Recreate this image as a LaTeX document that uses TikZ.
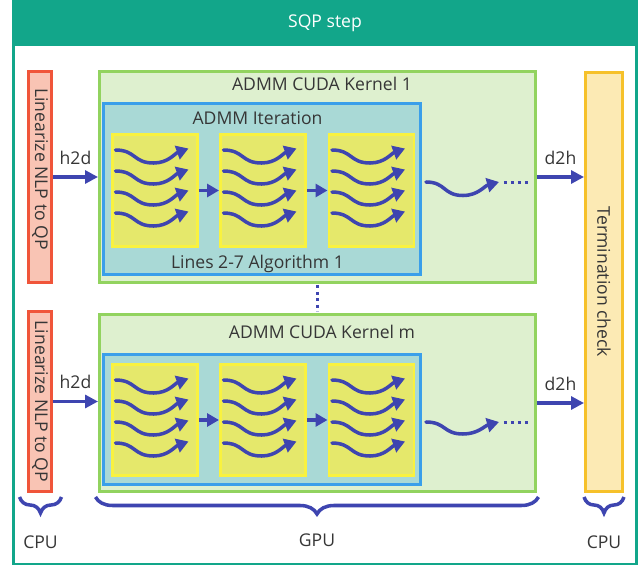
\documentclass[tikz,border=0pt]{standalone}
\usepackage{fontspec}
\setmainfont{Open Sans}
\usetikzlibrary{arrows.meta,decorations.pathreplacing}

\definecolor{sqpteal}{HTML}{12A68A}
\definecolor{cpured}{HTML}{F0553A}
\definecolor{cpufill}{HTML}{F9C4B4}
\definecolor{kgreen}{HTML}{92D35F}
\definecolor{kfill}{HTML}{DEF0CF}
\definecolor{iblue}{HTML}{3A9FEA}
\definecolor{ifill}{HTML}{A9D9D6}
\definecolor{byellow}{HTML}{F9F23F}
\definecolor{bfill}{HTML}{E5E86B}
\definecolor{termyel}{HTML}{F6C12A}
\definecolor{termfill}{HTML}{FCEAB4}
\definecolor{flowblue}{HTML}{3E45B0}
\definecolor{textgray}{HTML}{363636}

\begin{document}
\begin{tikzpicture}[
	every node/.style={text=textgray, font=\fontsize{10}{12}\selectfont},
	box/.style={draw, line width=1.7pt, inner sep=0pt},
	cpubox/.style={box, draw=cpured, fill=cpufill, minimum width=0.46cm},
	kernel/.style={box, draw=kgreen, fill=kfill, minimum width=8.72cm},
	iter/.style={box, draw=iblue, fill=ifill, minimum width=6.34cm},
	block/.style={box, draw=byellow, fill=bfill, minimum width=1.70cm},
	flow/.style={draw=flowblue, line width=1.8pt, -{Triangle[length=0.26cm,width=0.26cm]}},
	link/.style={flow, -{Triangle[length=0.24cm,width=0.26cm]}},
	wavy/.style={flow, line width=2pt, line cap=round, -{Triangle[length=0.24cm,width=0.28cm]}},
	dots/.style={draw=flowblue, line width=0.06cm, dash pattern=on 0.06cm off 0.08cm},
	cbrace/.style={draw=flowblue, line width=2pt, decorate, decoration={brace, mirror, amplitude=0.32cm}},
]
\useasboundingbox (0,0) rectangle (12.86,-11.34);

% outer frame and title bar
\node[box, draw=sqpteal, minimum width=12.46cm, minimum height=11.25cm] (frame) at (6.5,-5.655) {};
\node[box, draw=sqpteal, fill=sqpteal, minimum width=12.46cm, minimum height=0.86cm, anchor=north, text=white] (title) at (frame.north) {SQP step};

% CPU side
\node[cpubox, minimum height=4.22cm] (lin1) at (0.80,-3.54) {};
\node[rotate=-90] (lin1txt) at ([yshift=0.16cm]lin1.center) {Linearize NLP to QP};
\node[cpubox, minimum height=3.60cm] (lin2) at (0.80,-8.03) {};
\node[rotate=-90] (lin2txt) at (lin2.center) {Linearize NLP to QP};

\node[box, draw=termyel, fill=termfill, minimum width=0.74cm, minimum height=8.38cm] (term) at (12.08,-5.64) {};
\node[rotate=-90] (termtxt) at (term.center) {Termination check};

% GPU kernels
\node[kernel, minimum height=4.22cm] (kern1) at (6.35,-3.54) {};
\node (kern1txt) at ([xshift=0.09cm, yshift=-0.27cm]kern1.north) {ADMM CUDA Kernel 1};
\node[iter, minimum height=3.42cm] (iter1) at (5.24,-3.78) {};
\node (iter1txt) at ([xshift=-0.09cm, yshift=-0.33cm]iter1.north) {ADMM Iteration};
\node (lines1txt) at ([xshift=-0.09cm, yshift=0.25cm]iter1.south) {Lines 2-7 Algorithm 1};

\node[kernel, minimum height=3.54cm] (kernm) at (6.35,-8.06) {};
\node (kernmtxt) at ([xshift=0.09cm, yshift=-0.37cm]kernm.north) {ADMM CUDA Kernel m};
\node[iter, minimum height=2.60cm] (iterm) at (5.24,-8.39) {};

% thread blocks
\foreach \k/\yc/\hb in {1/-3.81/2.24cm, m/-8.40/2.22cm} {
	\foreach \i/\xc in {1/3.10, 2/5.26, 3/7.43} {
		\node[block, minimum height=\hb] (b\k\i) at (\xc,\yc) {};
		\foreach \r in {0,...,3}
			\draw[wavy] ([shift={(0.09,-0.34-0.42*\r)}]b\k\i.north west) to[out=0,in=180,looseness=1.3] ++(0.76,-0.26) to[out=0,in=200] ++(0.70,0.29);
	}
	\draw[link] (b\k1) -- (b\k2);
	\draw[link] (b\k2) -- (b\k3);
}

% remaining iterations
\draw[wavy] ([xshift=0.08cm, yshift=0.14cm]iter1.east) to[out=0,in=180,looseness=1.3] ++(0.74,-0.27) to[out=0,in=195] ++(0.72,0.27) coordinate (tail1);
\draw[dots] ([xshift=0.1cm]tail1) -- ++(0.48,0);
\draw[wavy] ([xshift=0.08cm, yshift=-0.05cm]iterm.east) to[out=0,in=180,looseness=1.3] ++(0.74,-0.24) to[out=0,in=195] ++(0.72,0.24) coordinate (tailm);
\draw[dots] ([xshift=0.1cm]tailm) -- ++(0.48,0);

\draw[dots, dash pattern=on 0.06cm off 0.07cm] ([yshift=-0.03cm]kern1.south) -- ([yshift=0.03cm]kernm.north);

% host <-> device
\draw[flow] (lin1.east) -- (kern1.west) node[midway, above=3pt] (h2d1) {h2d};
\draw[flow] (kern1.east) -- (kern1.east -| term.west) node[midway, above=3pt] (d2h1) {d2h};
\draw[flow] (lin2.east) -- (lin2.east -| kernm.west) node[midway, above=3pt] (h2dm) {h2d};
\draw[flow] (kernm.east) -- (kernm.east -| term.west) node[midway, above=3pt] (d2hm) {d2h};

% braces
\draw[cbrace] ([xshift=-0.15cm, yshift=-0.08cm]lin2.south west) -- ([xshift=0.17cm, yshift=-0.08cm]lin2.south east) node[midway, yshift=-0.9cm] (cpu1) {CPU};
\draw[cbrace, decoration={amplitude=0.34cm}] ([xshift=-0.05cm, yshift=-0.08cm]kernm.south west) -- ([xshift=0.03cm, yshift=-0.08cm]kernm.south east) node[midway, yshift=-0.86cm] (gpu) {GPU};
\draw[cbrace] ([yshift=-0.08cm]term.south west) -- ([yshift=-0.08cm]term.south east) node[midway, yshift=-0.9cm] (cpu2) {CPU};
\end{tikzpicture}
\end{document}
